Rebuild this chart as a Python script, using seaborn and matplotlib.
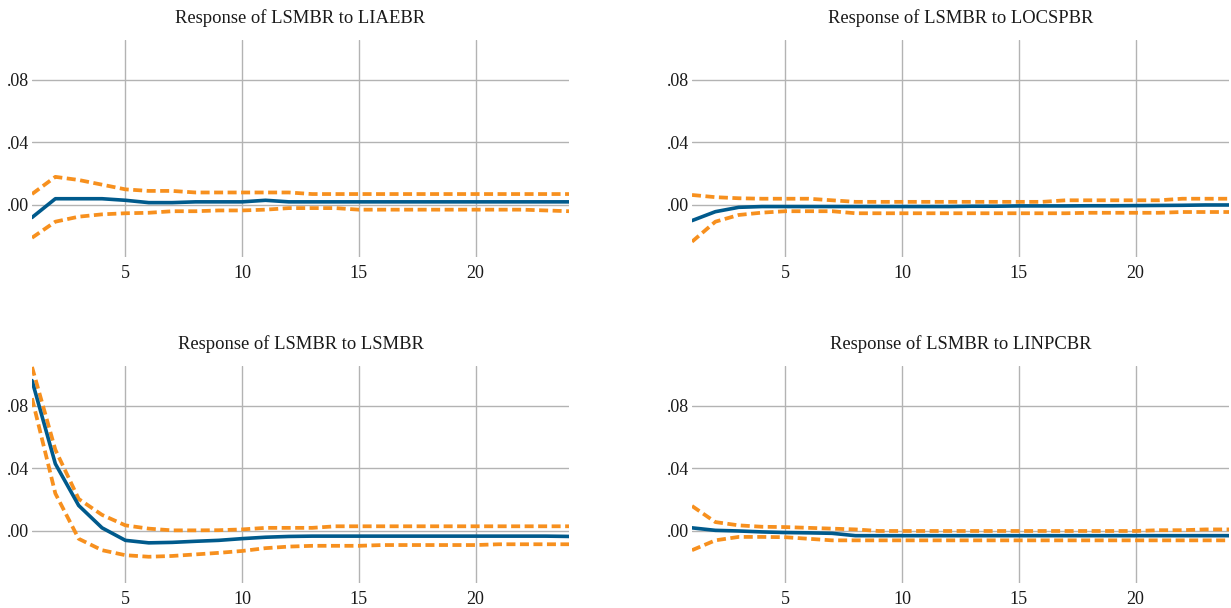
import numpy as np
import pandas as pd
import matplotlib
matplotlib.use("Agg")
import matplotlib.pyplot as plt
import seaborn as sns

periods = list(range(1, 25))

titles = ["Response of LSMBR to LIAEBR", "Response of LSMBR to LOCSPBR",
          "Response of LSMBR to LSMBR", "Response of LSMBR to LINPCBR"]

# Panel 1: LIAEBR
liaebr_resp = [-0.008, 0.004, 0.004, 0.004, 0.003, 0.0015, 0.0015, 0.002, 0.002, 0.002,
               0.003, 0.002, 0.002, 0.002, 0.002, 0.002, 0.002, 0.002, 0.002, 0.002,
               0.002, 0.002, 0.002, 0.002]
liaebr_up = [0.007, 0.018, 0.016, 0.013, 0.010, 0.009, 0.009, 0.008, 0.008, 0.008,
             0.008, 0.008, 0.007, 0.007, 0.007, 0.007, 0.007, 0.007, 0.007, 0.007,
             0.007, 0.007, 0.007, 0.007]
liaebr_lo = [-0.021, -0.0107, -0.0075, -0.006, -0.0053, -0.005, -0.004, -0.004, -0.0035, -0.0035,
             -0.003, -0.002, -0.002, -0.002, -0.003, -0.003, -0.003, -0.003, -0.003, -0.003,
             -0.003, -0.003, -0.0035, -0.004]

# Panel 2: LOCSPBR
locspbr_resp = [-0.010, -0.0043, -0.0015, -0.001, -0.001, -0.001, -0.001, -0.001, -0.001, -0.001,
                -0.001, -0.001, -0.0008, -0.0008, -0.0006, -0.0006, -0.0006, -0.0005, -0.0005, -0.0004,
                -0.0003, -0.0002, 0.0, 0.0]
locspbr_up = [0.0064, 0.005, 0.0043, 0.004, 0.004, 0.004, 0.003, 0.002, 0.002, 0.002,
              0.002, 0.002, 0.002, 0.002, 0.002, 0.002, 0.003, 0.003, 0.003, 0.003,
              0.003, 0.004, 0.004, 0.004]
locspbr_lo = [-0.0235, -0.0107, -0.0064, -0.0049, -0.004, -0.004, -0.004, -0.0053, -0.0053, -0.0053,
              -0.0053, -0.0053, -0.0053, -0.0053, -0.0053, -0.0053, -0.0053, -0.005, -0.005, -0.005,
              -0.005, -0.0045, -0.0045, -0.0045]

# Panel 3: LSMBR
lsmbr_resp = [0.0963, 0.043, 0.0163, 0.002, -0.006, -0.0076, -0.0073, -0.0066, -0.006, -0.0049,
              -0.004, -0.0035, -0.0033, -0.0033, -0.0033, -0.0033, -0.0033, -0.0033, -0.0033, -0.0033,
              -0.0033, -0.0033, -0.0033, -0.0035]
lsmbr_up = [0.105, 0.052, 0.0205, 0.0103, 0.0036, 0.0015, 0.0004, 0.0004, 0.0005, 0.001,
            0.002, 0.002, 0.002, 0.003, 0.003, 0.003, 0.003, 0.003, 0.003, 0.003,
            0.003, 0.003, 0.003, 0.003]
lsmbr_lo = [0.085, 0.024, -0.005, -0.0123, -0.0155, -0.0165, -0.016, -0.015, -0.014, -0.0128,
            -0.011, -0.010, -0.0095, -0.0095, -0.0095, -0.009, -0.009, -0.009, -0.009, -0.009,
            -0.0085, -0.0085, -0.0085, -0.0085]

# Panel 4: LINPCBR
linpcbr_resp = [0.002, 0.0004, 0.0, -0.0006, -0.001, -0.0012, -0.0015, -0.003, -0.003, -0.003,
                -0.003, -0.003, -0.003, -0.003, -0.003, -0.003, -0.003, -0.003, -0.003, -0.003,
                -0.003, -0.003, -0.003, -0.003]
linpcbr_up = [0.016, 0.0057, 0.0036, 0.0027, 0.0025, 0.002, 0.0015, 0.001, 0.0, 0.0,
              0.0, 0.0, 0.0, 0.0, 0.0, 0.0, 0.0, 0.0, 0.0, 0.0,
              0.0005, 0.0005, 0.001, 0.001]
linpcbr_lo = [-0.0123, -0.006, -0.0038, -0.0038, -0.004, -0.005, -0.006, -0.006, -0.006, -0.006,
              -0.006, -0.006, -0.006, -0.006, -0.006, -0.006, -0.006, -0.006, -0.006, -0.006,
              -0.006, -0.006, -0.006, -0.006]

y_ticks = [0.0, 0.04, 0.08]
y_ticklabels = [".00", ".04", ".08"]
x_ticks = [5, 10, 15, 20]

panels = [
    (liaebr_resp, liaebr_up, liaebr_lo),
    (locspbr_resp, locspbr_up, locspbr_lo),
    (lsmbr_resp, lsmbr_up, lsmbr_lo),
    (linpcbr_resp, linpcbr_up, linpcbr_lo),
]

sns.set_theme(style="white")
plt.rcParams['font.family'] = ['Liberation Serif', 'DejaVu Serif']

W, H = 1231, 608
fig = plt.figure(figsize=(W / 100, H / 100), dpi=100)

lefts = [32, 692, 32, 692]
tops = [40, 40, 366, 366]
aw, ah = 537, 217

blue = "#005a8c"
orange = "#f7901e"
grid_c = "#b3b3b3"

for i, (resp, up, lo) in enumerate(panels):
    l, t = lefts[i], tops[i]
    ax = fig.add_axes([l / W, 1 - (t + ah) / H, aw / W, ah / H])
    df = pd.DataFrame({"period": periods, "resp": resp, "up": up, "lo": lo})
    sns.lineplot(data=df, x="period", y="up", ax=ax, color=orange, linewidth=2.7,
                 linestyle=(0, (2.4, 1.2)), estimator=None, zorder=3)
    sns.lineplot(data=df, x="period", y="lo", ax=ax, color=orange, linewidth=2.7,
                 linestyle=(0, (2.4, 1.2)), estimator=None, zorder=3)
    sns.lineplot(data=df, x="period", y="resp", ax=ax, color=blue, linewidth=2.6,
                 estimator=None, zorder=4)
    ax.set_xlim(1, 24)
    ax.set_ylim(-0.0333, 0.1056)
    ax.set_xticks(x_ticks)
    ax.set_xticklabels([str(v) for v in x_ticks])
    ax.set_yticks(y_ticks)
    ax.set_yticklabels(y_ticklabels)
    ax.set_xlabel("")
    ax.set_ylabel("")
    ax.grid(True, color=grid_c, linewidth=1.0)
    ax.set_axisbelow(True)
    for s in ax.spines.values():
        s.set_visible(False)
    ax.tick_params(axis="both", length=0, labelsize=13, colors="#1a1a1a")
    ax.tick_params(axis="y", pad=2)
    ax.tick_params(axis="x", pad=6)
    ax.set_facecolor("white")
    ax.set_title(titles[i], fontsize=13.4, pad=12, color="#1a1a1a")

fig.savefig("out.png", dpi=100, facecolor="white")
